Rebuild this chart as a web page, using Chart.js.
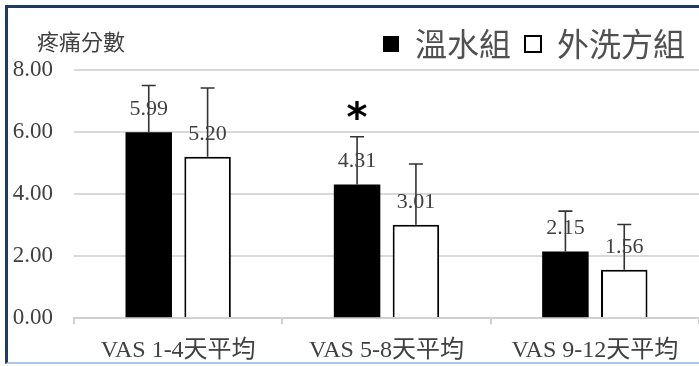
<!DOCTYPE html>
<html>
<head>
<meta charset="utf-8">
<script src="https://cdn.jsdelivr.net/npm/chart.js@4.4.1/dist/chart.umd.min.js"></script>
<style>
    html, body { margin: 0; padding: 0; background: #fff; }
    #wrap { position: relative; width: 699px; height: 366px; overflow: hidden; }
    #frame {
        position: absolute; left: 5px; top: 5px; width: 720px; height: 354px;
        border-top: 3px solid #1f3b63; border-left: 3px solid #1f3b63;
        border-bottom: 2px solid #a9c8e8;
    }
    #chart { position: absolute; left: 0; top: 0; }
</style>
</head>
<body>
<div id="wrap">
    <div id="frame"></div>
    <canvas id="chart" width="699" height="366"></canvas>
</div>
<script>
// 資料
const categories = ["VAS 1-4天平均", "VAS 5-8天平均", "VAS 9-12天平均"];
const warmWater = [5.99, 4.31, 2.15];
const warmWaterSd = [1.51, 1.54, 1.30];
const herbalWash = [5.20, 3.01, 1.56];
const herbalWashSd = [2.22, 1.96, 1.46];
const significant = [false, true, false];
const yTicks = [0, 2, 4, 6, 8];

const serif = "'Liberation Serif', 'Noto Sans CJK TC', serif";
const cjk = "'Noto Sans CJK TC', sans-serif";
const textColor = "#404040";

// 誤差線、數值標籤、星號與標題
const annotations = {
    id: "annotations",
    afterDatasetsDraw(chart) {
        const ctx = chart.ctx;
        const y = chart.scales.y;
        const sds = [warmWaterSd, herbalWashSd];

        ctx.save();
        chart.data.datasets.forEach((ds, di) => {
            chart.getDatasetMeta(di).data.forEach((bar, i) => {
                const top = y.getPixelForValue(ds.data[i]);
                const errTop = y.getPixelForValue(ds.data[i] + sds[di][i]);

                ctx.strokeStyle = "#333";
                ctx.lineWidth = 1.6;
                ctx.beginPath();
                ctx.moveTo(bar.x, top);
                ctx.lineTo(bar.x, errTop);
                ctx.moveTo(bar.x - 7, errTop);
                ctx.lineTo(bar.x + 7, errTop);
                ctx.stroke();

                ctx.fillStyle = textColor;
                ctx.font = "22px " + serif;
                ctx.textAlign = "center";
                ctx.textBaseline = "middle";
                ctx.fillText(ds.data[i].toFixed(2), bar.x, top - 23);

                if (di === 0 && significant[i]) {
                    ctx.fillStyle = "#000";
                    ctx.font = "bold 40px 'DejaVu Sans', sans-serif";
                    ctx.fillText("*", bar.x, errTop - 16);
                }
            });
        });

        ctx.fillStyle = textColor;
        ctx.font = "22px " + cjk;
        ctx.textAlign = "left";
        ctx.textBaseline = "middle";
        ctx.fillText("疼痛分數", 37, 42);
        ctx.restore();
    }
};

new Chart(document.getElementById("chart"), {
    type: "bar",
    data: {
        labels: categories,
        datasets: [
            {
                label: "溫水組",
                data: warmWater,
                backgroundColor: "#000",
                borderColor: "#000",
                borderWidth: 0
            },
            {
                label: "外洗方組",
                data: herbalWash,
                backgroundColor: "#fff",
                borderColor: "#000",
                borderWidth: 2
            }
        ]
    },
    options: {
        responsive: false,
        animation: false,
        categoryPercentage: 0.565,
        barPercentage: 0.79,
        layout: {
            padding: { top: 14, left: 8, right: 0, bottom: -11 }
        },
        plugins: {
            legend: {
                align: "end",
                labels: {
                    color: "#505050",
                    boxWidth: 16,
                    boxHeight: 16,
                    padding: 14,
                    font: { family: cjk, size: 32 }
                }
            },
            tooltip: { enabled: false }
        },
        scales: {
            x: {
                border: { color: "#d0d0d0", width: 2 },
                grid: {
                    offset: true,
                    drawOnChartArea: false,
                    color: "#d0d0d0",
                    lineWidth: 2,
                    tickLength: 6
                },
                ticks: {
                    color: textColor,
                    padding: 12,
                    font: { family: serif, size: 24 }
                }
            },
            y: {
                min: 0,
                max: 8,
                afterFit(scale) { scale.width = 66; },
                afterBuildTicks(scale) {
                    scale.ticks = yTicks.map(v => ({ value: v }));
                },
                border: { display: false },
                grid: {
                    color: "#d9d9d9",
                    lineWidth: 2,
                    drawTicks: false
                },
                ticks: {
                    color: textColor,
                    padding: 21,
                    font: { family: serif, size: 23 },
                    callback: v => v.toFixed(2)
                }
            }
        }
    },
    plugins: [annotations]
});
</script>
</body>
</html>
